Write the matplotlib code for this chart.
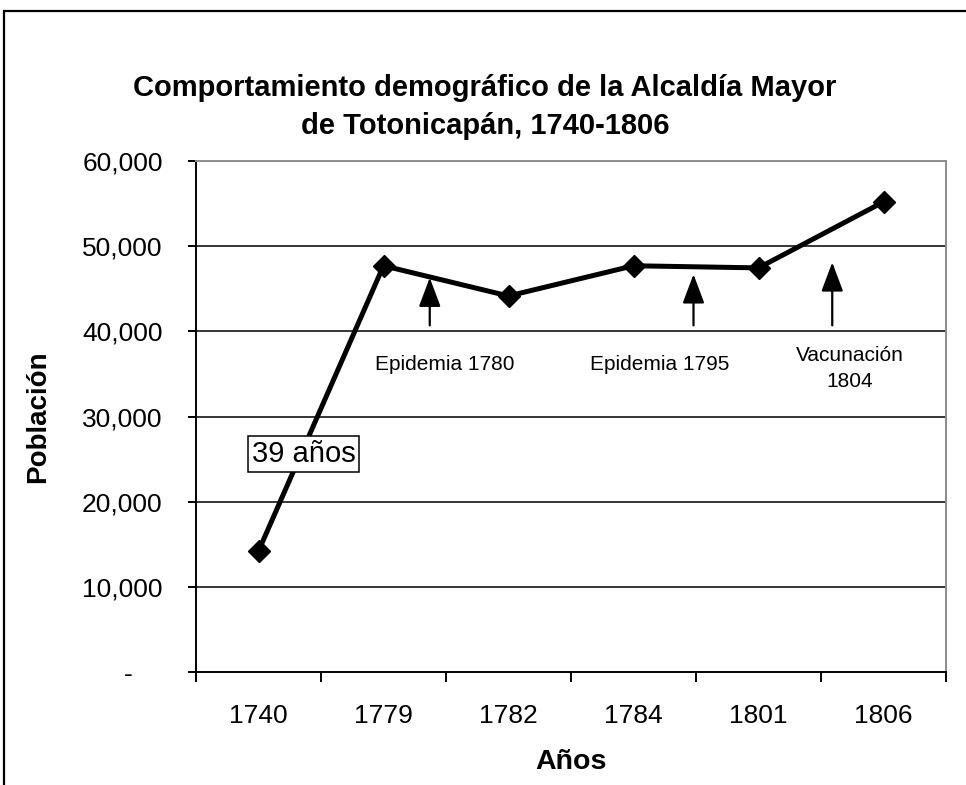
import numpy as np
import matplotlib.pyplot as plt
from matplotlib.patches import Rectangle
from matplotlib.ticker import FuncFormatter, FixedLocator

plt.rcParams['font.family'] = ['Liberation Sans', 'DejaVu Sans']

# data
years = ['1740', '1779', '1782', '1784', '1801', '1806']
population = [14200, 47700, 44150, 47700, 47450, 55200]

# event arrows (position between categories, base and tip value)
event_labels = ['Epidemia 1780', 'Epidemia 1795', 'Vacunación\n1804']
event_pos = [1.37, 3.48, 4.59]
event_base = [40700, 40700, 40700]
event_tip = [46300, 46700, 48100]
event_text_pos = [1.49, 3.21, 4.73]
event_text_val = [36050, 36050, 35600]

span_label = '39 años'

fig = plt.figure(figsize=(9.66, 7.85), dpi=100)
ax = fig.add_axes([196 / 966, 113 / 785, 750 / 966, 511 / 785])

x = np.arange(len(years))
ax.plot(x, population, color='black', lw=3.6, marker='D', ms=11,
        mfc='black', mec='black', zorder=5, solid_joinstyle='miter')

ax.set_xlim(-0.5, len(years) - 0.5)
ax.set_ylim(0, 60000)

# grid lines
for v in range(10000, 60000, 10000):
    ax.axhline(v, color='black', lw=1.1, zorder=1)

# spines
for s in ['top', 'right']:
    ax.spines[s].set_color('#8c8c8c')
    ax.spines[s].set_linewidth(1.4)
for s in ['left', 'bottom']:
    ax.spines[s].set_color('black')
    ax.spines[s].set_linewidth(1.4)

# y axis
ax.set_yticks(range(0, 60001, 10000))
ax.yaxis.set_major_formatter(FuncFormatter(
    lambda v, p: '-    ' if v == 0 else '{:,.0f}'.format(v)))
ax.tick_params(axis='y', direction='out', length=6, width=1.4, pad=18,
               labelsize=19)

# x axis: labels at centers, tick marks at boundaries
ax.set_xticks(x)
ax.set_xticklabels(years)
ax.xaxis.set_minor_locator(FixedLocator(np.arange(-0.5, len(years), 1.0)))
ax.tick_params(axis='x', which='major', length=0, pad=23, labelsize=19)
ax.tick_params(axis='x', which='minor', direction='out', length=7, width=1.4)

ax.set_xlabel('Años', fontsize=20.5, fontweight='bold', labelpad=15)
ax.set_ylabel('Población', fontsize=20, fontweight='bold', labelpad=22)

# event arrows and labels
for lab, px, b, t, tx, ty in zip(event_labels, event_pos, event_base, event_tip,
                                  event_text_pos, event_text_val):
    ax.annotate('', xy=(px, t), xytext=(px, b),
                arrowprops=dict(arrowstyle='-|>,head_length=1.2,head_width=0.45',
                                mutation_scale=15, color='black', lw=1.6,
                                shrinkA=0, shrinkB=0), zorder=4)
    ax.text(tx, ty, lab, ha='center', va='center', fontsize=15,
            linespacing=1.45)

# span label box
ax.text(0.36, 25600, span_label, ha='center', va='center', fontsize=21,
        bbox=dict(boxstyle='square,pad=0.14', fc='white', ec='black', lw=1.1),
        zorder=6)

# title
fig.text(485 / 966, 1 - 107 / 785,
         'Comportamiento demográfico de la Alcaldía Mayor\nde Totonicapán, 1740-1806',
         ha='center', va='center', fontsize=21, fontweight='bold',
         linespacing=1.5)

# chart border
fig.add_artist(Rectangle((4 / 966, -0.1), 1.2, 1.1 - 11 / 785,
                         transform=fig.transFigure, fill=False,
                         ec='black', lw=1.6))

fig.savefig('out.png', dpi=100)
